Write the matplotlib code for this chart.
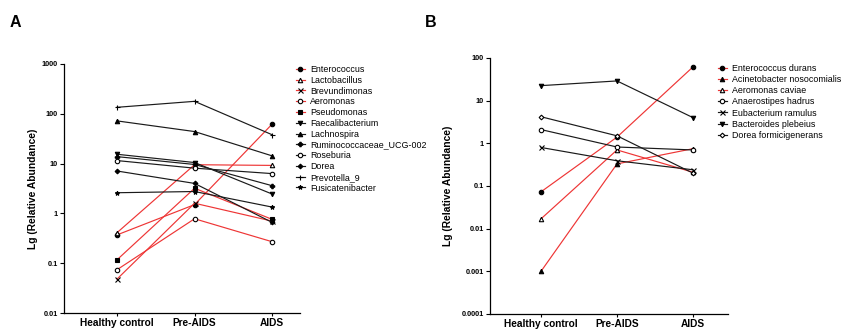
import matplotlib
matplotlib.use("Agg")
import matplotlib.pyplot as plt
from matplotlib.ticker import FixedLocator, FixedFormatter, NullLocator

plt.rcParams['font.family'] = ['Liberation Sans', 'DejaVu Sans']

RED = '#ee3535'
BLK = '#1a1a1a'

groups = ['Healthy control', 'Pre-AIDS', 'AIDS']

# ---- panel A data (relative abundance, %) ----
a_names = ['Enterococcus', 'Lactobacillus', 'Brevundimonas', 'Aeromonas', 'Pseudomonas',
           'Faecalibacterium', 'Lachnospira', 'Ruminococcaceae_UCG-002', 'Roseburia',
           'Dorea', 'Prevotella_9', 'Fusicatenibacter']
a_values = [
    [0.37, 1.5, 62],
    [0.41, 9.5, 9.2],
    [0.048, 1.6, 0.70],
    [0.074, 0.78, 0.27],
    [0.117, 3.2, 0.76],
    [15.4, 10.5, 2.45],
    [72, 44, 14.3],
    [13.8, 9.6, 3.6],
    [11.5, 8.1, 6.3],
    [7.1, 4.0, 0.66],
    [135, 178, 38],
    [2.6, 2.75, 1.34],
]
a_colors = [RED] * 5 + [BLK] * 7
a_markers = ['o', '^', 'x', 'o', 's', 'v', '^', 'P', 'o', 'D', '+', '*']
a_fill = [True, False, True, False, True, True, True, True, False, True, True, True]
a_yticks = [0.01, 0.1, 1, 10, 100, 1000]
a_ylabels = ['0.01', '0.1', '1', '10', '100', '1000']

# ---- panel B data ----
b_names = ['Enterococcus durans', 'Acinetobacter nosocomialis', 'Aeromonas caviae',
           'Anaerostipes hadrus', 'Eubacterium ramulus', 'Bacteroides plebeius',
           'Dorea formicigenerans']
b_values = [
    [0.073, 1.4, 62],
    [0.001, 0.33, 0.75],
    [0.017, 0.70, 0.21],
    [2.1, 0.82, 0.70],
    [0.80, 0.39, 0.24],
    [22.5, 29, 4.0],
    [4.2, 1.5, 0.20],
]
b_colors = [RED] * 3 + [BLK] * 4
b_markers = ['o', '^', '^', 'o', 'x', 'v', 'D']
b_fill = [True, True, False, False, True, True, False]
b_yticks = [0.0001, 0.001, 0.01, 0.1, 1, 10, 100]
b_ylabels = ['0.0001', '0.001', '0.01', '0.1', '1', '10', '100']

fig = plt.figure(figsize=(8.43, 3.29), dpi=100)
axA = fig.add_axes([64 / 843, 16 / 329, 236 / 843, 249 / 329])
axB = fig.add_axes([490 / 843, 15 / 329, 238 / 843, 256 / 329])


def draw(ax, names, values, colors, markers, fills, yticks, ylabels, xlim, ylim):
    x = list(range(len(groups)))
    for n, v, c, m, f in zip(names, values, colors, markers, fills):
        ms = 3.2
        if m == 'D':
            ms = 2.4
        if m in ('x', '+'):
            ms = 3.6
        ax.plot(x, v, color=c, lw=0.85, marker=m, ms=ms, mew=0.8,
                mec='black', mfc='black' if f else 'white', label=n)
    ax.set_yscale('log')
    ax.set_ylim(*ylim)
    ax.set_xlim(*xlim)
    ax.yaxis.set_major_locator(FixedLocator(yticks))
    ax.yaxis.set_major_formatter(FixedFormatter(ylabels))
    ax.yaxis.set_minor_locator(NullLocator())
    ax.set_xticks(x)
    ax.set_xticklabels(groups, fontsize=7.3, fontweight='bold')
    for t in ax.get_yticklabels():
        t.set_fontsize(5.3)
        t.set_fontweight('bold')
    ax.tick_params(axis='x', direction='out', length=2.5, width=0.8, pad=1)
    ax.tick_params(axis='y', direction='out', length=3, width=0.8, pad=1.5)
    ax.spines['top'].set_visible(False)
    ax.spines['right'].set_visible(False)
    for s in ('left', 'bottom'):
        ax.spines[s].set_linewidth(0.9)
    ax.set_ylabel('Lg (Relative Abundance)', fontsize=7.4, fontweight='bold')


draw(axA, a_names, a_values, a_colors, a_markers, a_fill, a_yticks, a_ylabels,
     (-0.684, 2.36), (0.01, 1000))
draw(axB, b_names, b_values, b_colors, b_markers, b_fill, b_yticks, b_ylabels,
     (-0.671, 2.46), (0.0001, 100))
axA.yaxis.set_label_coords(-0.11, 0.5)
axB.yaxis.set_label_coords(-0.155, 0.5)

legA = axA.legend(loc='upper left', bbox_to_anchor=(296 / 843, 1 - 65 / 329),
                  bbox_transform=fig.transFigure, frameon=False, fontsize=6.4,
                  handlelength=1.0, handletextpad=0.6, labelspacing=0.2,
                  borderpad=0, borderaxespad=0)
legB = axB.legend(loc='upper left', bbox_to_anchor=(718 / 843, 1 - 64 / 329),
                  bbox_transform=fig.transFigure, frameon=False, fontsize=6.4,
                  handlelength=1.0, handletextpad=0.6, labelspacing=0.24,
                  borderpad=0, borderaxespad=0)

fig.text(10 / 843, 1 - 27 / 329, 'A', fontsize=11.5, fontweight='bold')
fig.text(425 / 843, 1 - 27 / 329, 'B', fontsize=11.5, fontweight='bold')

fig.savefig('out.png', dpi=100)
